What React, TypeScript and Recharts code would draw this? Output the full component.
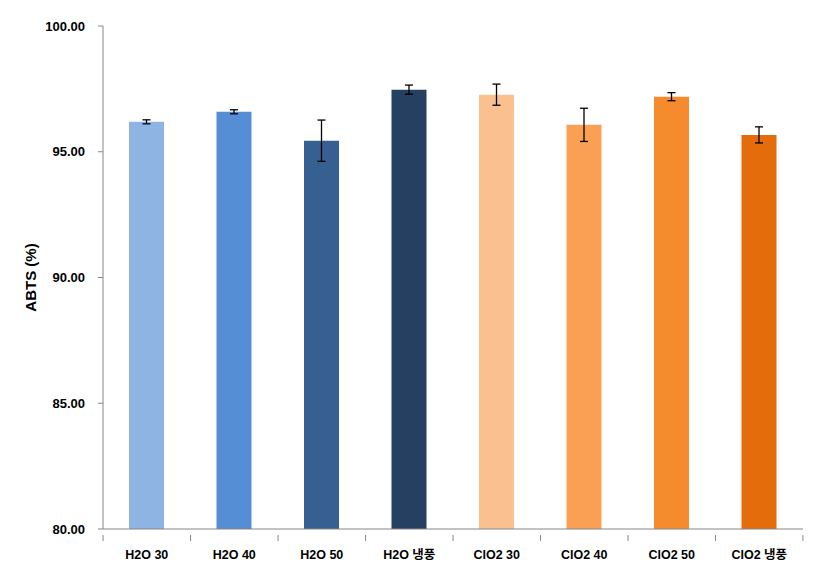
import { BarChart, Bar, XAxis, YAxis, Cell, ErrorBar } from 'recharts';

const categories = ['H2O 30', 'H2O 40', 'H2O 50', 'H2O 냉풍', 'ClO2 30', 'ClO2 40', 'ClO2 50', 'ClO2 냉풍'];
const abts = [96.19, 96.59, 95.44, 97.47, 97.27, 96.07, 97.19, 95.67];
const errors = [0.08, 0.08, 0.82, 0.18, 0.42, 0.66, 0.16, 0.32];
const barColors = ['#8EB4E3', '#558ED5', '#376092', '#254061', '#FAC090', '#F9A055', '#F68B2E', '#E46C0A'];
const yTicks = [80, 85, 90, 95, 100];

const data = categories.map((name, i) => ({ name, value: abts[i], err: errors[i] }));

const FONT = '"Liberation Sans", "Noto Sans CJK KR", sans-serif';

// Excel style: tick marks sit on the category boundaries, not the centres
const CategoryTick = (props: any) => {
  const { x, y, payload, index } = props;
  const half = 87.4 / 2;
  return (
    <g>
      <line x1={x - half} y1={y} x2={x - half} y2={y + 6} stroke="#868686" />
      {index === categories.length - 1 && (
        <line x1={x + half} y1={y} x2={x + half} y2={y + 6} stroke="#868686" />
      )}
      <text x={x} y={y + 24} textAnchor="middle" fontSize={12.5} fontWeight="bold" fill="#000" fontFamily={FONT}>
        {payload.value}
      </text>
    </g>
  );
};

export default function App() {
  return (
    <div style={{ position: 'absolute', left: 0, top: 0, background: '#fff' }}>
      <BarChart
        width={823}
        height={582}
        data={data}
        margin={{ top: 26, right: 20, bottom: 0, left: 0 }}
        barSize={35}
      >
        <XAxis
          dataKey="name"
          stroke="#868686"
          tickLine={false}
          tick={<CategoryTick />}
          tickMargin={0}
          interval={0}
          height={53}
        />
        <YAxis
          domain={[80, 100]}
          ticks={yTicks}
          width={103}
          stroke="#868686"
          tickSize={5}
          tickMargin={13}
          tickFormatter={(v: number) => v.toFixed(2)}
          tick={{ fill: '#000', fontSize: 13, fontWeight: 'bold', fontFamily: FONT }}
          allowDataOverflow
          label={{
            value: 'ABTS (%)',
            angle: -90,
            position: 'insideLeft',
            offset: 31,
            style: { fontSize: 15, fontWeight: 'bold', fill: '#000', fontFamily: FONT, textAnchor: 'middle' },
          }}
        />
        <Bar dataKey="value" isAnimationActive={false}>
          {data.map((d, i) => (
            <Cell key={d.name} fill={barColors[i]} />
          ))}
          <ErrorBar dataKey="err" width={4} stroke="#000" strokeWidth={1.3} isAnimationActive={false} />
        </Bar>
      </BarChart>
    </div>
  );
}
